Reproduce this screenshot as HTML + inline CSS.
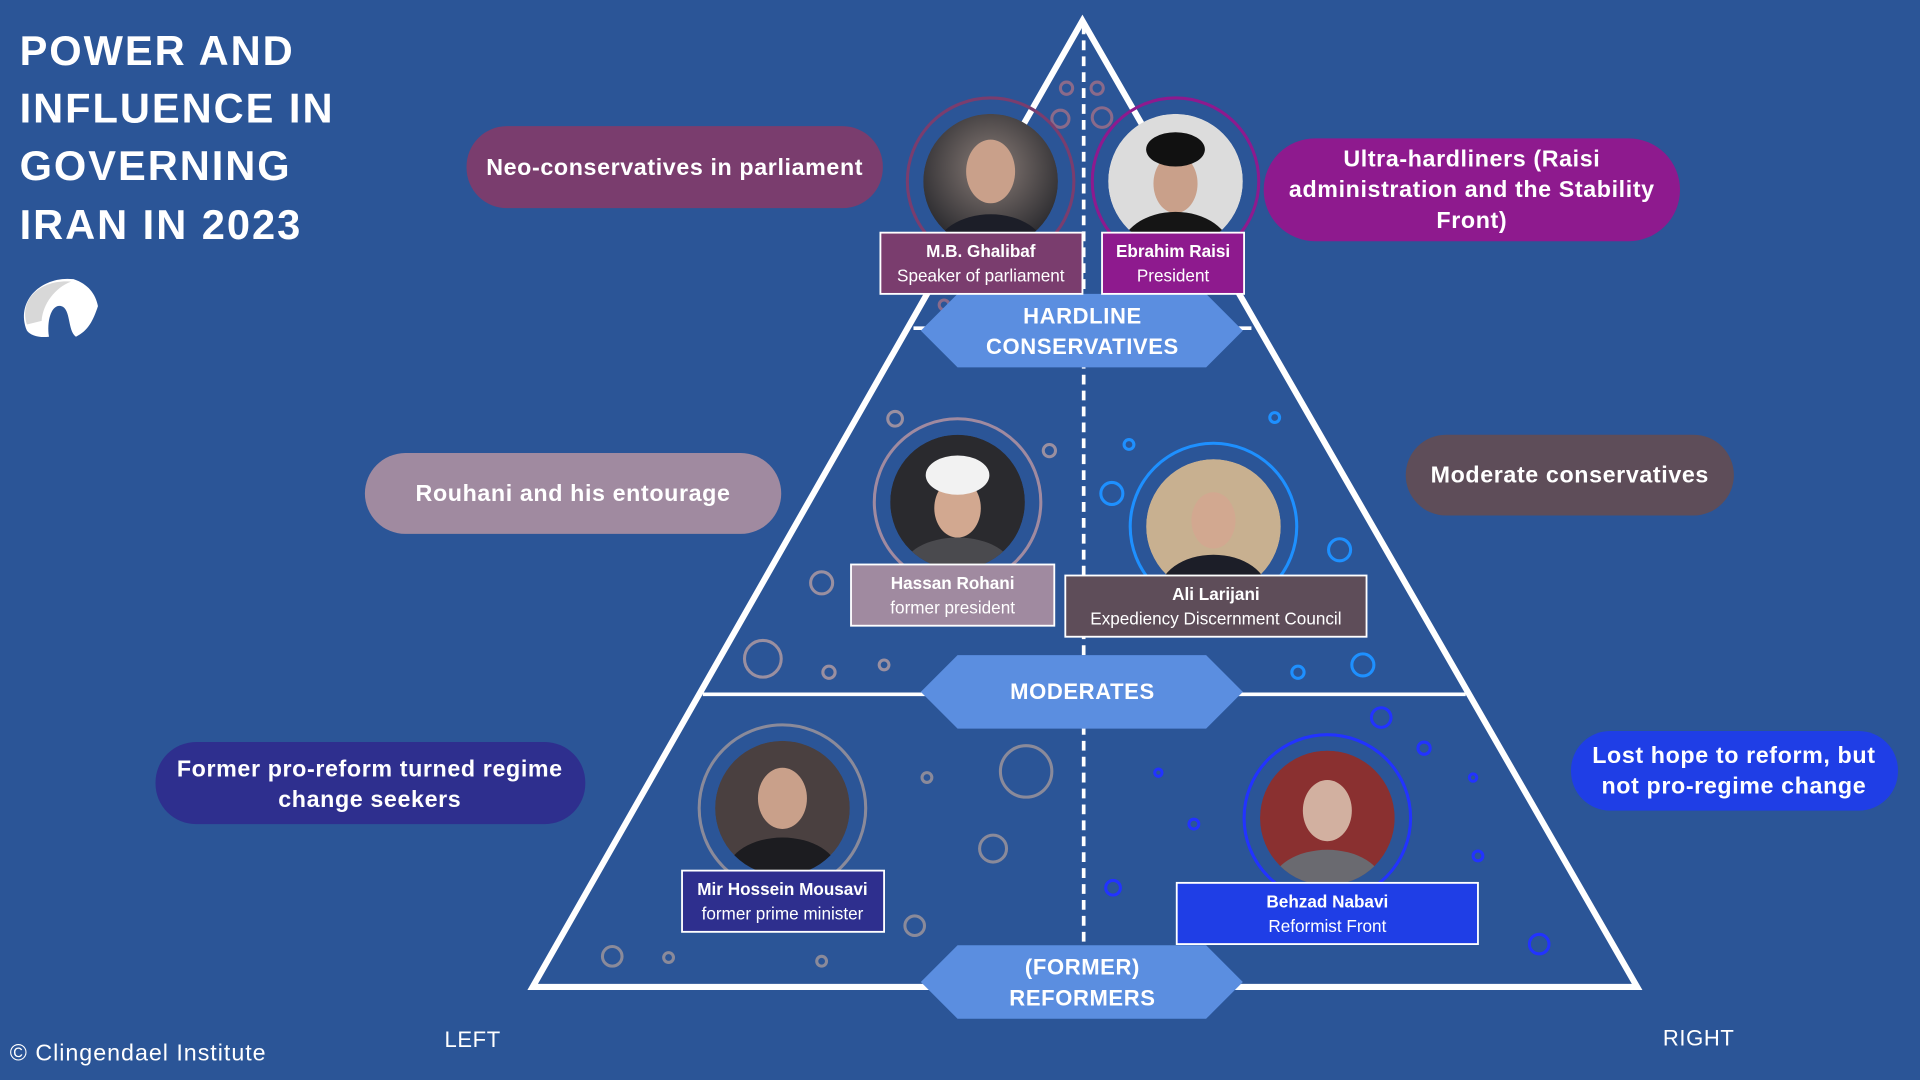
<!DOCTYPE html>
<html><head><meta charset="utf-8"><style>
html,body{margin:0;padding:0;background:#2b5597;}
svg{display:block}
text{font-family:"Liberation Sans",sans-serif;}
</style></head><body>
<svg width="1920" height="1080" viewBox="0 0 1568 882" xmlns="http://www.w3.org/2000/svg">
<defs>
<radialGradient id="ph" cx="50%" cy="40%" r="60%"><stop offset="0" stop-color="#8a7d78"/><stop offset="1" stop-color="#2a2a2e"/></radialGradient>
<clipPath id="c1"><circle cx="809" cy="148" r="55"/></clipPath>
<clipPath id="c2"><circle cx="960" cy="148" r="55"/></clipPath>
<clipPath id="c3"><circle cx="782" cy="410" r="55"/></clipPath>
<clipPath id="c4"><circle cx="991" cy="430" r="55"/></clipPath>
<clipPath id="c5"><circle cx="639" cy="660" r="55"/></clipPath>
<clipPath id="c6"><circle cx="1084" cy="668" r="55"/></clipPath>
</defs>
<rect width="1568" height="882" fill="#2b5597"/>

<!-- title -->
<g fill="#fff" font-weight="bold" font-size="34" letter-spacing="1.6">
<text x="16" y="53">POWER AND</text>
<text x="16" y="100">INFLUENCE IN</text>
<text x="16" y="147">GOVERNING</text>
<text x="16" y="195">IRAN IN 2023</text>
</g>
<!-- logo -->
<path d="M22 270 C12 245 35 225 60 228 C72 232 78 240 80 250 C76 262 72 270 62 275 C55 270 58 252 50 250 C42 248 38 262 40 275 C32 276 25 274 22 270Z" fill="#fff"/>
<path d="M22 265 C15 243 35 228 58 230 C45 235 35 248 34 262Z" fill="#d8d8d8"/>

<text x="8" y="866" fill="#fff" font-size="19" letter-spacing="0.8">© Clingendael Institute</text>
<text x="363" y="855" fill="#fff" font-size="18" letter-spacing="0.5">LEFT</text>
<text x="1358" y="854" fill="#fff" font-size="18" letter-spacing="0.5">RIGHT</text>

<!-- decorative circles -->
<g fill="none" stroke-width="2.5">
<g stroke="#8a6a8a"><circle cx="871" cy="72" r="5"/><circle cx="896" cy="72" r="5"/><circle cx="866" cy="97" r="7"/><circle cx="900" cy="96" r="8"/><circle cx="771" cy="249" r="4"/></g>
<g stroke="#9a8fa0"><circle cx="731" cy="342" r="6"/><circle cx="857" cy="368" r="5"/><circle cx="671" cy="476" r="9"/><circle cx="623" cy="538" r="15"/><circle cx="677" cy="549" r="5"/><circle cx="722" cy="543" r="4"/></g>
<g stroke="#1e90ff"><circle cx="1041" cy="341" r="4"/><circle cx="922" cy="363" r="4"/><circle cx="908" cy="403" r="9"/><circle cx="1094" cy="449" r="9"/><circle cx="1060" cy="549" r="5"/><circle cx="1113" cy="543" r="9"/></g>
<g stroke="#8a8a9a"><circle cx="838" cy="630" r="21"/><circle cx="757" cy="635" r="4"/><circle cx="811" cy="693" r="11"/><circle cx="747" cy="756" r="8"/><circle cx="500" cy="781" r="8"/><circle cx="546" cy="782" r="4"/><circle cx="671" cy="785" r="4"/></g>
<g stroke="#2233ff"><circle cx="1128" cy="586" r="8"/><circle cx="1163" cy="611" r="5"/><circle cx="1203" cy="635" r="3"/><circle cx="946" cy="631" r="3"/><circle cx="975" cy="673" r="4"/><circle cx="909" cy="725" r="6"/><circle cx="1207" cy="699" r="4"/><circle cx="1257" cy="771" r="8"/></g>
</g>

<!-- triangle -->
<polygon points="884,17 435,806 1337,806" fill="none" stroke="#fff" stroke-width="5"/>
<line x1="746" y1="268" x2="1022" y2="268" stroke="#fff" stroke-width="3"/>
<line x1="574" y1="567" x2="1197" y2="567" stroke="#fff" stroke-width="3"/>
<line x1="885" y1="20" x2="885" y2="806" stroke="#fff" stroke-width="3" stroke-dasharray="8,5"/>

<!-- bands -->
<g fill="#5b8ee0">
<polygon points="752,270 782,240 985,240 1015,270 985,300 782,300"/>
<polygon points="752,565 782,535 985,535 1015,565 985,595 782,595"/>
<polygon points="752,802 782,772 985,772 1015,802 985,832 782,832"/>
</g>
<g fill="#fff" font-size="18" text-anchor="middle" font-weight="bold" letter-spacing="0.5">
<text x="884" y="264">HARDLINE</text><text x="884" y="289">CONSERVATIVES</text>
<text x="884" y="571">MODERATES</text>
<text x="884" y="796">(FORMER)</text><text x="884" y="821">REFORMERS</text>
</g>

<!-- pills -->
<g font-size="19" fill="#fff" text-anchor="middle" font-weight="bold" letter-spacing="0.5">
<rect x="381" y="103" width="340" height="67" rx="33" fill="#7a3d6e"/><text x="551" y="143">Neo-conservatives in parliament</text>
<rect x="1032" y="113" width="340" height="84" rx="42" fill="#8e1a8e"/><text x="1202" y="136">Ultra-hardliners (Raisi</text><text x="1202" y="161">administration and the Stability</text><text x="1202" y="186">Front)</text>
<rect x="298" y="370" width="340" height="66" rx="33" fill="#a08aa0"/><text x="468" y="409">Rouhani and his entourage</text>
<rect x="1148" y="355" width="268" height="66" rx="33" fill="#5e4d59"/><text x="1282" y="394">Moderate conservatives</text>
<rect x="127" y="606" width="351" height="67" rx="33" fill="#2e2f8e"/><text x="302" y="634">Former pro-reform turned regime</text><text x="302" y="659">change seekers</text>
<rect x="1283" y="597" width="267" height="65" rx="32" fill="#1f3ee6"/><text x="1416" y="623">Lost hope to reform, but</text><text x="1416" y="648">not pro-regime change</text>
</g>

<!-- photos -->
<g fill="none" stroke-width="2.5">
<circle cx="809" cy="148" r="68" stroke="#7a3d6e"/>
<circle cx="960" cy="148" r="68" stroke="#8e1a8e"/>
<circle cx="782" cy="410" r="68" stroke="#a08aa0"/>
<circle cx="991" cy="430" r="68" stroke="#1e90ff"/>
<circle cx="639" cy="660" r="68" stroke="#8a8a9a"/>
<circle cx="1084" cy="668" r="68" stroke="#2233ff"/>
</g>
<g>
<g clip-path="url(#c1)"><circle cx="809" cy="148" r="55" fill="url(#ph)"/><ellipse cx="809" cy="140" rx="20" ry="26" fill="#c9a08a"/><ellipse cx="809" cy="205" rx="45" ry="30" fill="#1c1e28"/></g>
<g clip-path="url(#c2)"><circle cx="960" cy="148" r="55" fill="#dcdcdc"/><ellipse cx="960" cy="150" rx="18" ry="24" fill="#c9a08a"/><ellipse cx="960" cy="122" rx="24" ry="14" fill="#111"/><ellipse cx="960" cy="205" rx="45" ry="32" fill="#151515"/></g>
<g clip-path="url(#c3)"><circle cx="782" cy="410" r="55" fill="#2a2a2e"/><ellipse cx="782" cy="415" rx="19" ry="24" fill="#d2a890"/><ellipse cx="782" cy="388" rx="26" ry="16" fill="#f2f2f2"/><ellipse cx="782" cy="465" rx="45" ry="26" fill="#4a4a4e"/></g>
<g clip-path="url(#c4)"><circle cx="991" cy="430" r="55" fill="#c8b090"/><ellipse cx="991" cy="425" rx="18" ry="23" fill="#d2a890"/><ellipse cx="991" cy="485" rx="45" ry="32" fill="#1c1e28"/></g>
<g clip-path="url(#c5)"><circle cx="639" cy="660" r="55" fill="#4a4040"/><ellipse cx="639" cy="652" rx="20" ry="25" fill="#c9a08a"/><ellipse cx="639" cy="712" rx="45" ry="28" fill="#1c1c20"/></g>
<g clip-path="url(#c6)"><circle cx="1084" cy="668" r="55" fill="#8a3030"/><ellipse cx="1084" cy="662" rx="20" ry="25" fill="#d2b0a0"/><ellipse cx="1084" cy="722" rx="45" ry="28" fill="#6a6a70"/></g>
</g>

<!-- name boxes -->
<g stroke="#fff" stroke-width="1.5">
<rect x="719" y="190" width="165" height="50" fill="#7a3d6e"/>
<rect x="900" y="190" width="116" height="50" fill="#8e1a8e"/>
<rect x="695" y="461" width="166" height="50" fill="#a08aa0"/>
<rect x="870" y="470" width="246" height="50" fill="#5e4d59"/>
<rect x="557" y="711" width="165" height="50" fill="#2e2f8e"/>
<rect x="961" y="721" width="246" height="50" fill="#1f3ee6"/>
</g>
<g fill="#fff" font-size="14" text-anchor="middle">
<text x="801" y="210" font-weight="bold">M.B. Ghalibaf</text><text x="801" y="230">Speaker of parliament</text>
<text x="958" y="210" font-weight="bold">Ebrahim Raisi</text><text x="958" y="230">President</text>
<text x="778" y="481" font-weight="bold">Hassan Rohani</text><text x="778" y="501">former president</text>
<text x="993" y="490" font-weight="bold">Ali Larijani</text><text x="993" y="510">Expediency Discernment Council</text>
<text x="639" y="731" font-weight="bold">Mir Hossein Mousavi</text><text x="639" y="751">former prime minister</text>
<text x="1084" y="741" font-weight="bold">Behzad Nabavi</text><text x="1084" y="761">Reformist Front</text>
</g>
</svg>
</body></html>
